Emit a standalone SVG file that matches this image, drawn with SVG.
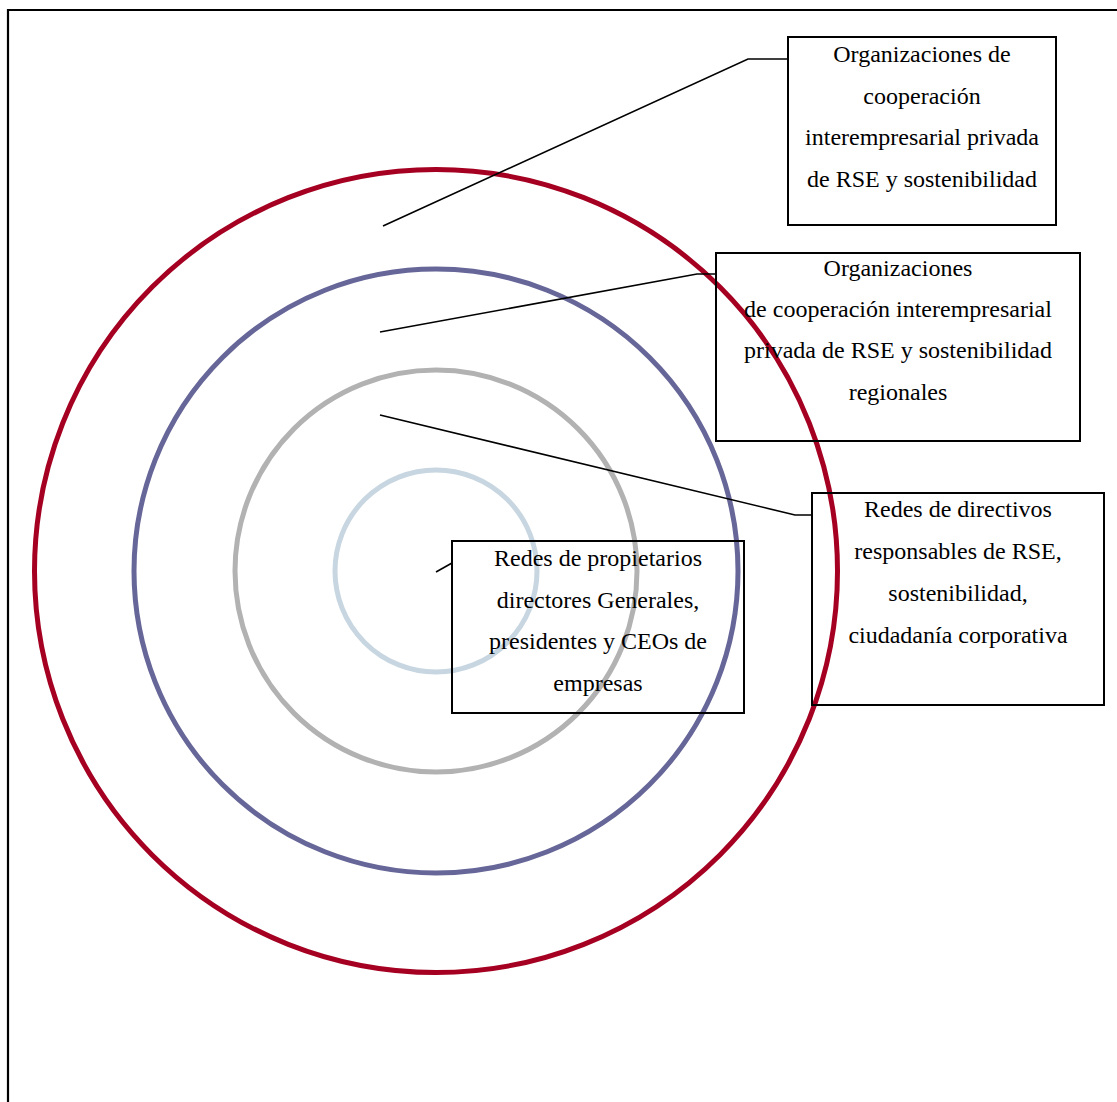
<svg xmlns="http://www.w3.org/2000/svg" width="1117" height="1102" viewBox="0 0 1117 1102">
  <style>
    .ring { fill: none; stroke-width: 5; }
    .box { fill: none; stroke: #000; stroke-width: 2; }
    .lbl { font-family: "Liberation Serif", "Times New Roman", serif; font-size: 24px; fill: #000; text-anchor: middle; }
    .conn { fill: none; stroke: #000; stroke-width: 1.6; }
  </style>
  <rect width="1117" height="1102" fill="#fff"/>
  <!-- frame (only top and left edges fall inside the canvas) -->
  <path d="M8,1102 V10 H1117" fill="none" stroke="#000" stroke-width="2.2"/>

  <!-- concentric rings -->
  <g id="rings">
    <circle id="ring-outer" class="ring" cx="436" cy="571" r="401.5" stroke="#A50021"/>
    <circle id="ring-second" class="ring" cx="436" cy="571" r="302" stroke="#666699"/>
    <circle id="ring-third" class="ring" cx="436" cy="571" r="201" stroke="#B2B2B2"/>
    <circle id="ring-inner" class="ring" cx="436" cy="571" r="101" stroke="#C7D6E0"/>
  </g>

  <g id="connectors">
    <polyline class="conn" points="383,226 748,59 788,59"/>
    <polyline class="conn" points="380,332 697,274 716,274"/>
    <polyline class="conn" points="380,415 795,515 812,515"/>
    <polyline class="conn" points="436,572 452,563"/>
  </g>

  <g id="node-cooperacion">
    <rect class="box" x="788" y="37" width="268" height="188"/>
    <text class="lbl" x="922" y="62">Organizaciones de</text>
    <text class="lbl" x="922" y="104">cooperación</text>
    <text class="lbl" x="922" y="145">interempresarial privada</text>
    <text class="lbl" x="922" y="187">de RSE y sostenibilidad</text>
  </g>

  <g id="node-regionales">
    <rect class="box" x="716" y="253" width="364" height="188"/>
    <text class="lbl" x="898" y="276">Organizaciones</text>
    <text class="lbl" x="898" y="317">de cooperación interempresarial</text>
    <text class="lbl" x="898" y="358">privada de RSE y sostenibilidad</text>
    <text class="lbl" x="898" y="400">regionales</text>
  </g>

  <g id="node-directivos">
    <rect class="box" x="812" y="493" width="292" height="212"/>
    <text class="lbl" x="958" y="517">Redes de directivos</text>
    <text class="lbl" x="958" y="559">responsables de RSE,</text>
    <text class="lbl" x="958" y="601">sostenibilidad,</text>
    <text class="lbl" x="958" y="643">ciudadanía corporativa</text>
  </g>

  <g id="node-propietarios">
    <rect class="box" x="452" y="541" width="292" height="172"/>
    <text class="lbl" x="598" y="566">Redes de propietarios</text>
    <text class="lbl" x="598" y="608">directores Generales,</text>
    <text class="lbl" x="598" y="649">presidentes y CEOs de</text>
    <text class="lbl" x="598" y="691">empresas</text>
  </g>
</svg>
